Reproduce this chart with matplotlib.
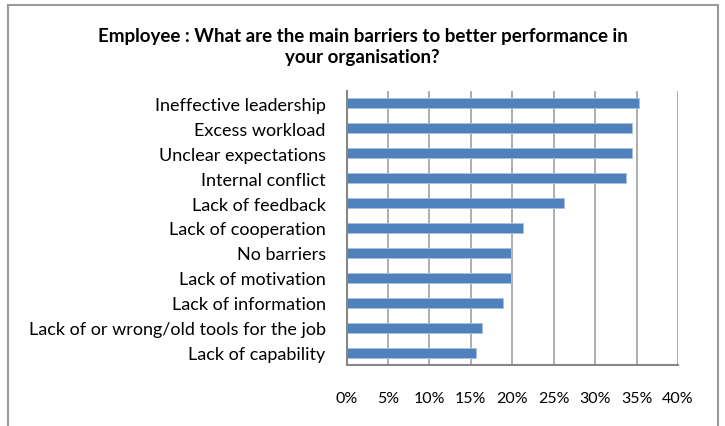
import matplotlib
matplotlib.use("Agg")
import matplotlib.pyplot as plt
from matplotlib.patches import Rectangle

categories = [
    "Ineffective leadership",
    "Excess workload",
    "Unclear expectations",
    "Internal conflict",
    "Lack of feedback",
    "Lack of cooperation",
    "No barriers",
    "Lack of motivation",
    "Lack of information",
    "Lack of or wrong/old tools for the job",
    "Lack of capability",
]
values = [35.3, 34.4, 34.4, 33.7, 26.2, 21.3, 19.8, 19.8, 18.9, 16.4, 15.6]
xticks = [0, 5, 10, 15, 20, 25, 30, 35, 40]
xtick_labels = ["0%", "5%", "10%", "15%", "20%", "25%", "30%", "35%", "40%"]
title = "Employee : What are the main barriers to better performance in\nyour organisation?"

plt.rcParams["font.family"] = ["Lato", "DejaVu Sans"]

W, H = 725, 427
fig = plt.figure(figsize=(W / 100, H / 100), dpi=100)

# chart area border (bottom edge runs off the canvas)
fig.add_artist(Rectangle((7.5 / W, -0.05), (717.5 - 7.5) / W, 1.05 - 5.5 / H,
                         transform=fig.transFigure, fill=False,
                         edgecolor="#9a9a9a", linewidth=1.5))

ax = fig.add_axes([346.5 / W, 1 - 366 / H, (678 - 346.5) / W, (366 - 92) / H])
y = list(range(len(categories)))
ax.barh(y, values, height=0.4, color="#4F81BD", edgecolor="#a9c1e0",
        linewidth=0.6, zorder=3)
ax.set_ylim(len(categories) - 0.5, -0.5)
ax.set_xlim(0, 40)
ax.set_yticks(y)
ax.set_yticklabels(categories, fontsize=13)
ax.set_xticks(xticks)
ax.set_xticklabels(xtick_labels, fontsize=11.5)
ax.tick_params(axis="y", length=0, pad=15)
ax.tick_params(axis="x", length=0, pad=18.5)
ax.grid(axis="x", color="#a0a0a0", linewidth=1.2, zorder=0)
for s in ["top", "right"]:
    ax.spines[s].set_visible(False)
for s in ["left", "bottom"]:
    ax.spines[s].set_color("#868686")
    ax.spines[s].set_linewidth(1.5)
    ax.spines[s].set_zorder(4)

fig.text(362.5 / W, 1 - 47 / H, title, ha="center", va="center",
         fontsize=13.5, fontweight="bold", linespacing=1.3)

fig.savefig("out.png", dpi=100)
